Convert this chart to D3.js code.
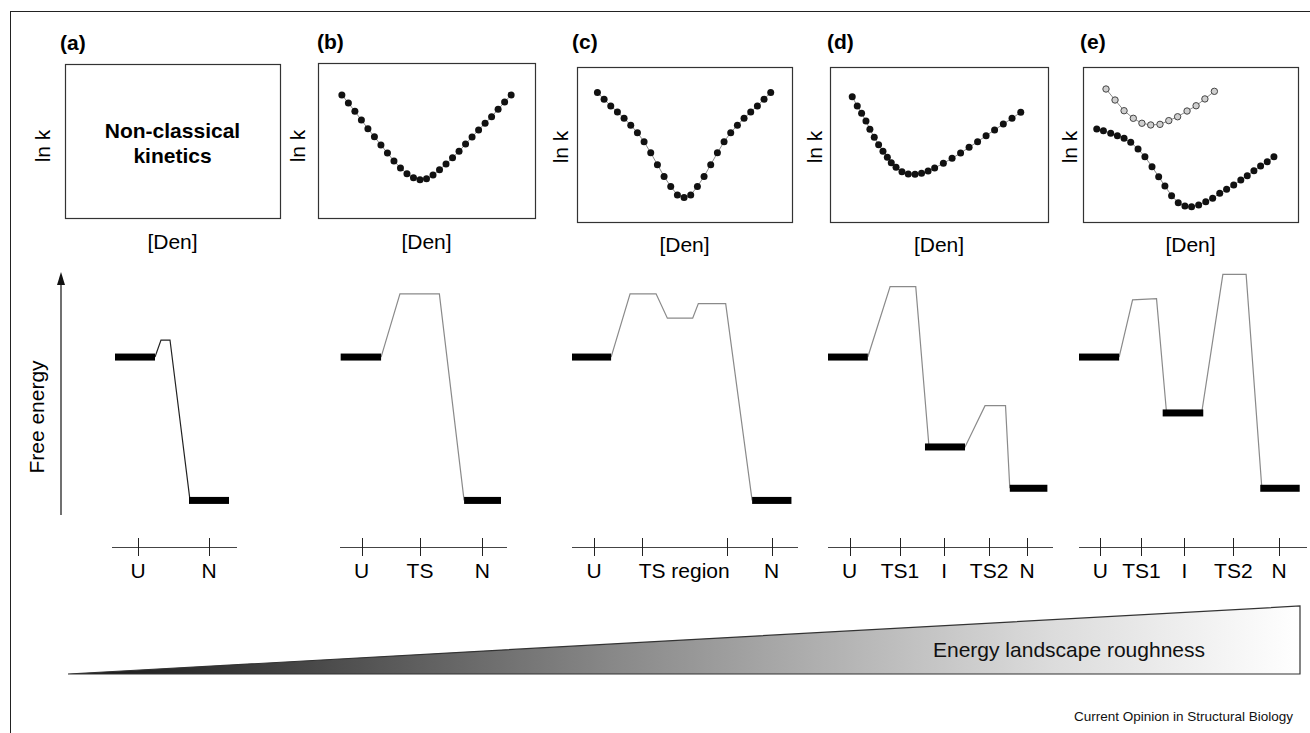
<!DOCTYPE html>
<html>
<head>
<meta charset="utf-8">
<script src="https://cdn.jsdelivr.net/npm/d3@7"></script>
<style>
  body { margin: 0; background: #fff; }
  svg { display: block; font-family: "Liberation Sans", Arial, Helvetica, sans-serif; }
</style>
</head>
<body>
<svg id="chart" width="1310" height="733"></svg>
<script>
// ---- data ----
var panelLabels = ["(a)", "(b)", "(c)", "(d)", "(e)"];

// ln k vs [Den] (den and ln k in arbitrary units, 0-10 across each box)
var denB = [1.1,1.4,1.7,2.0,2.3,2.6,2.9,3.2,3.5,3.8,4.1,4.4,4.7,5.0,5.3,5.6,5.9,6.2,6.5,6.8,7.1,7.4,7.7,8.0,8.3,8.6,8.9];
var lnkB = [7.94,7.42,6.88,6.32,5.76,5.24,4.71,4.19,3.68,3.23,2.86,2.6,2.47,2.53,2.77,3.12,3.48,3.89,4.3,4.77,5.23,5.68,6.11,6.54,7.01,7.48,7.94];

var denC = [0.95,1.26,1.57,1.88,2.19,2.5,2.81,3.12,3.43,3.74,4.05,4.36,4.67,4.98,5.29,5.6,5.91,6.22,6.53,6.84,7.15,7.46,7.77,8.08,8.39,8.7,9.01];
var lnkC = [8.36,7.92,7.49,7.1,6.69,6.25,5.76,5.18,4.46,3.7,2.94,2.29,1.75,1.58,1.75,2.29,2.94,3.7,4.46,5.18,5.76,6.25,6.69,7.1,7.49,7.92,8.36];

var denD = [1.02,1.25,1.45,1.65,1.83,2.03,2.23,2.43,2.63,2.81,3.03,3.3,3.59,3.9,4.2,4.5,4.8,5.2,5.6,5.99,6.38,6.77,7.16,7.55,7.95,8.35,8.75];
var lnkD = [8.08,7.48,7.01,6.52,5.98,5.46,4.99,4.56,4.17,3.83,3.53,3.25,3.1,3.08,3.14,3.29,3.48,3.79,4.11,4.45,4.82,5.18,5.57,5.94,6.32,6.69,7.08];

var denE = [0.64,0.95,1.29,1.6,1.91,2.22,2.56,2.88,3.21,3.52,3.81,4.12,4.43,4.74,5.05,5.38,5.71,6.03,6.36,6.68,7.01,7.34,7.64,7.95,8.26,8.57,8.88];
var lnkE = [6.0,5.89,5.72,5.57,5.4,5.14,4.71,4.21,3.57,2.92,2.32,1.7,1.25,1.03,0.99,1.1,1.31,1.53,1.85,2.11,2.39,2.71,2.99,3.31,3.61,3.89,4.21];
var denE2 = [1.07,1.49,1.91,2.34,2.74,3.15,3.58,3.99,4.4,4.84,5.26,5.67,6.11];
var lnkE2 = [8.58,7.87,7.18,6.69,6.37,6.26,6.3,6.54,6.79,7.16,7.5,7.94,8.43];

// free energy profiles: [reaction coordinate, G]
var pathA = [[3.44,65],[3.92,72],[4.64,72],[6.24,6]];
var levelsA = [[0.24,3.44,65],[6.16,9.36,6]];
var ticksA = [[2.08,"U"],[7.76,"N"]];

var pathB = [[2.46,65],[3.59,91],[5.95,91],[7.43,6]];
var levelsB = [[0.04,2.46,65],[7.43,9.64,6]];
var ticksB = [[1.3,"U"],[4.79,"TS"],[8.52,"N"]];

var pathC = [[1.73,65],[2.57,91],[3.72,91],[4.22,81],[5.34,81],[5.59,87],[6.8,87],[7.97,6]];
var levelsC = [[0,1.73,65],[7.97,9.71,6]];
var ticksC = [[0.98,"U"],[3.09,""],[6.84,""],[8.83,"N"]];
var regionC = [3.09, 6.84, "TS region"];

var pathD = [[1.77,65],[2.76,94],[3.9,94],[4.49,28],[6.09,28],[6.98,45],[7.89,45],[8.08,11]];
var levelsD = [[0,1.77,65],[4.31,6.09,28],[8.08,9.75,11]];
var ticksD = [[0.96,"U"],[3.2,"TS1"],[5.16,"I"],[7.16,"TS2"],[8.85,"N"]];

var pathE = [[1.76,65],[2.35,88.5],[3.4,89],[3.84,42],[5.38,42],[6.31,99],[7.33,99],[8.02,11]];
var levelsE = [[0,1.76,65],[3.67,5.45,42],[7.95,9.68,11]];
var ticksE = [[0.94,"U"],[2.74,"TS1"],[4.62,"I"],[6.77,"TS2"],[8.78,"N"]];

// ---- layout ----
var svg = d3.select("#chart");
var fs = 21;

svg.append("rect")
    .attr("x", 10.5).attr("y", 11.5)
    .attr("width", 1400).attr("height", 800)
    .attr("fill", "none").attr("stroke", "#222");

var kinPanels = [
    {box: [65, 280, 64, 218], lab: 60, lnx: 50, lny: 146, den: 249, series: []},
    {box: [318, 535, 63, 218], lab: 317, lnx: 305, lny: 146, den: 249, series: [{x: denB, y: lnkB}]},
    {box: [577, 792, 67, 222], lab: 572, lnx: 568, lny: 147, den: 252, series: [{x: denC, y: lnkC}]},
    {box: [830, 1048, 67, 222], lab: 827, lnx: 822, lny: 147, den: 252, series: [{x: denD, y: lnkD}]},
    {box: [1083, 1298, 67, 222], lab: 1080, lnx: 1077, lny: 147, den: 252,
        series: [{x: denE2, y: lnkE2, open: true}, {x: denE, y: lnkE}]}
];

kinPanels.forEach(function (p, i) {
    var g = svg.append("g");
    var b = p.box;
    var x = d3.scaleLinear().domain([0, 10]).range([b[0], b[1]]);
    var y = d3.scaleLinear().domain([0, 10]).range([b[3], b[2]]);

    g.append("rect")
        .attr("x", b[0] + 0.5).attr("y", b[2] + 0.5)
        .attr("width", b[1] - b[0]).attr("height", b[3] - b[2])
        .attr("fill", "none").attr("stroke", "#333").attr("stroke-width", 1.2);

    g.append("text")
        .attr("x", p.lab).attr("y", i == 0 ? 50 : 49)
        .attr("font-weight", "bold").attr("font-size", fs)
        .text(panelLabels[i]);

    g.append("text")
        .attr("transform", "translate(" + p.lnx + "," + p.lny + ") rotate(-90)")
        .attr("text-anchor", "middle").attr("font-size", fs)
        .text("ln k");

    g.append("text")
        .attr("x", (b[0] + b[1]) / 2).attr("y", p.den)
        .attr("text-anchor", "middle").attr("font-size", fs)
        .text("[Den]");

    p.series.forEach(function (s) {
        var pts = s.x.map(function (d, j) { return [d, s.y[j]]; });
        g.append("path")
            .attr("d", d3.line().x(function (d) { return x(d[0]); }).y(function (d) { return y(d[1]); })(pts))
            .attr("fill", "none").attr("stroke", "#8a8a8a").attr("stroke-width", 1);
        g.selectAll(null)
            .data(pts)
            .enter().append("circle")
            .attr("cx", function (d) { return x(d[0]); })
            .attr("cy", function (d) { return y(d[1]); })
            .attr("r", s.open ? 3.2 : 3.5)
            .attr("fill", s.open ? "#cfcfcf" : "#111")
            .attr("stroke", s.open ? "#444" : "none")
            .attr("stroke-width", 1);
    });

    if (i == 0) {
        g.append("text")
            .attr("x", (b[0] + b[1]) / 2).attr("y", 138)
            .attr("text-anchor", "middle").attr("font-weight", "bold").attr("font-size", fs)
            .text("Non-classical");
        g.append("text")
            .attr("x", (b[0] + b[1]) / 2).attr("y", 163)
            .attr("text-anchor", "middle").attr("font-weight", "bold").attr("font-size", fs)
            .text("kinetics");
    }
});

// ---- free energy diagrams ----
var gy = d3.scaleLinear().domain([0, 100]).range([515, 272]);
var axisY = 547;

// free energy arrow
svg.append("line")
    .attr("x1", 61).attr("x2", 61)
    .attr("y1", gy(0)).attr("y2", gy(100) + 10)
    .attr("stroke", "#111").attr("stroke-width", 1.2);
svg.append("path")
    .attr("d", "M61," + gy(100) + " L57," + (gy(100) + 13) + " L65," + (gy(100) + 13) + " Z")
    .attr("fill", "#111");
svg.append("text")
    .attr("transform", "translate(44,417) rotate(-90)")
    .attr("text-anchor", "middle").attr("font-size", fs)
    .text("Free energy");

var energyPanels = [
    {path: pathA, levels: levelsA, ticks: ticksA, range: [112, 237], stroke: "#222"},
    {path: pathB, levels: levelsB, ticks: ticksB, range: [340, 507], stroke: "#8a8a8a"},
    {path: pathC, levels: levelsC, ticks: ticksC, range: [572, 798], stroke: "#8a8a8a", region: regionC},
    {path: pathD, levels: levelsD, ticks: ticksD, range: [828, 1053], stroke: "#8a8a8a"},
    {path: pathE, levels: levelsE, ticks: ticksE, range: [1079, 1307], stroke: "#8a8a8a"}
];

energyPanels.forEach(function (p) {
    var g = svg.append("g");
    var x = d3.scaleLinear().domain([0, 10]).range(p.range);

    g.append("path")
        .attr("d", d3.line().x(function (d) { return x(d[0]); }).y(function (d) { return gy(d[1]); })(p.path))
        .attr("fill", "none").attr("stroke", p.stroke).attr("stroke-width", 1.2);

    g.selectAll(null)
        .data(p.levels)
        .enter().append("rect")
        .attr("x", function (d) { return x(d[0]); })
        .attr("y", function (d) { return gy(d[2]) - 3.5; })
        .attr("width", function (d) { return x(d[1]) - x(d[0]); })
        .attr("height", 7)
        .attr("fill", "#000");

    g.append("line")
        .attr("x1", p.range[0]).attr("x2", p.range[1])
        .attr("y1", axisY + 0.5).attr("y2", axisY + 0.5)
        .attr("stroke", "#444").attr("stroke-width", 1);

    g.selectAll(null)
        .data(p.ticks)
        .enter().append("line")
        .attr("x1", function (d) { return Math.round(x(d[0])) + 0.5; })
        .attr("x2", function (d) { return Math.round(x(d[0])) + 0.5; })
        .attr("y1", axisY - 9).attr("y2", axisY + 9)
        .attr("stroke", "#222").attr("stroke-width", 1);

    g.selectAll(null)
        .data(p.ticks)
        .enter().append("text")
        .attr("x", function (d) { return x(d[0]); })
        .attr("y", 578)
        .attr("text-anchor", "middle").attr("font-size", fs)
        .text(function (d) { return d[1]; });

    if (p.region) {
        g.append("text")
            .attr("x", x((p.region[0] + p.region[1]) / 2)).attr("y", 578)
            .attr("text-anchor", "middle").attr("font-size", fs)
            .text(p.region[2]);
    }
});

// ---- roughness wedge ----
var defs = svg.append("defs");
var grad = defs.append("linearGradient").attr("id", "rough")
    .attr("x1", "0%").attr("x2", "100%").attr("y1", "0%").attr("y2", "0%");
grad.append("stop").attr("offset", "0%").attr("stop-color", "#151515");
grad.append("stop").attr("offset", "45%").attr("stop-color", "#8a8a8a");
grad.append("stop").attr("offset", "80%").attr("stop-color", "#dcdcdc");
grad.append("stop").attr("offset", "100%").attr("stop-color", "#ffffff");

svg.append("path")
    .attr("d", "M68,674 L1300,606 L1300,674 Z")
    .attr("fill", "url(#rough)")
    .attr("stroke", "#333").attr("stroke-width", 1.2);

svg.append("text")
    .attr("x", 1069).attr("y", 657)
    .attr("text-anchor", "middle").attr("font-size", fs)
    .attr("fill", "#111")
    .text("Energy landscape roughness");

svg.append("text")
    .attr("x", 1293).attr("y", 721)
    .attr("text-anchor", "end").attr("font-size", 13.5)
    .attr("fill", "#111")
    .text("Current Opinion in Structural Biology");
</script>
</body>
</html>
